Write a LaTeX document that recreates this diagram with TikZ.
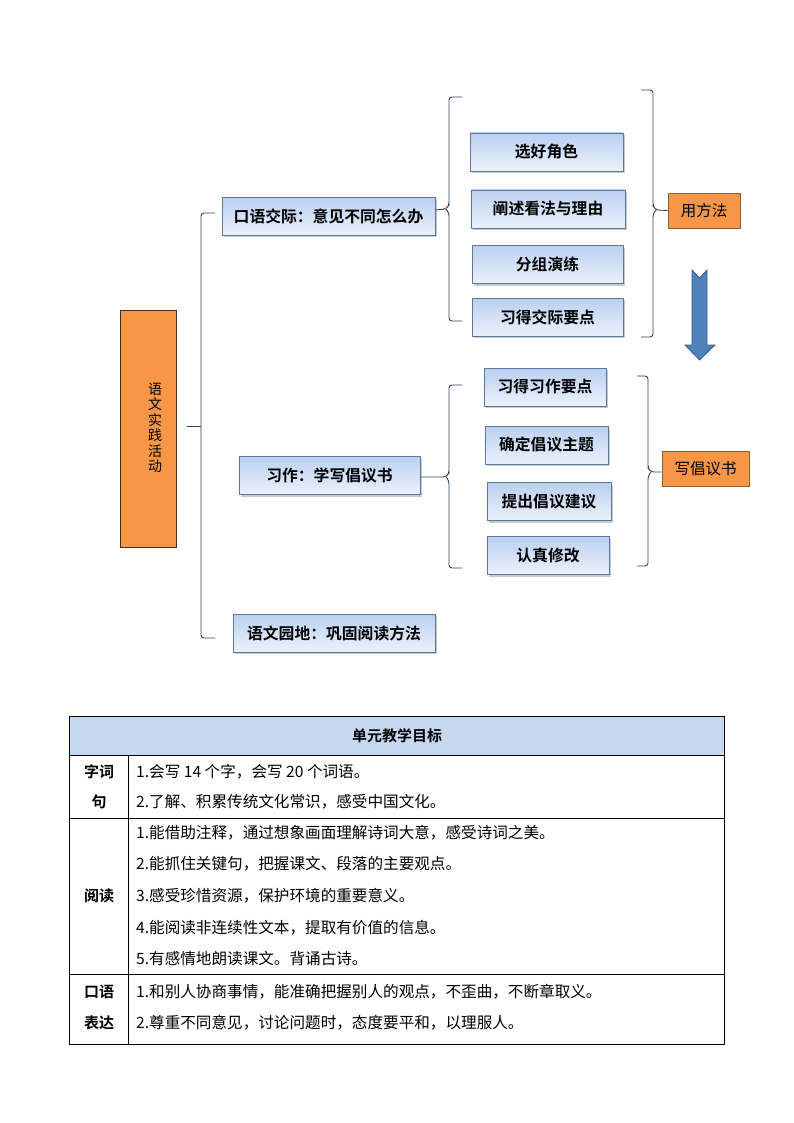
\documentclass[tikz,border=0pt]{standalone}
\usepackage{fontspec}
\setmainfont{Noto Sans CJK SC}[BoldFont={Noto Sans CJK SC Bold}]
\usetikzlibrary{shadows}
\definecolor{boxtop}{RGB}{186,207,240}
\definecolor{boxbot}{RGB}{236,242,252}
\definecolor{boxline}{RGB}{90,120,160}
\definecolor{orangefill}{RGB}{247,150,70}
\definecolor{orangeline}{RGB}{130,100,50}
\definecolor{linecol}{RGB}{45,65,95}
\definecolor{arrowfill}{RGB}{79,129,189}
\definecolor{arrowline}{RGB}{56,93,138}
\definecolor{headfill}{RGB}{198,217,241}
\tikzset{
  bluebox/.style={draw=boxline, line width=0.8pt, top color=boxtop, bottom color=boxbot,
    minimum height=38pt, font=\fontsize{15.8}{16}\selectfont\bfseries, inner sep=0pt,
    drop shadow={shadow xshift=1.5pt, shadow yshift=-2pt, fill=black!35, opacity=0.6}},
  orangebox/.style={draw=orangeline, line width=0.8pt, fill=orangefill,
    font=\fontsize{15.5}{16}\selectfont, inner sep=0pt},
  brace/.style={draw=linecol, line width=0.9pt, rounded corners=3pt},
  tline/.style={draw=black, line width=0.8pt},
  ttext/.style={anchor=west, font=\fontsize{15.6}{16}\selectfont, inner sep=0pt},
  tlabel/.style={font=\fontsize{15}{16}\selectfont\bfseries, inner sep=0pt}
}
\begin{document}
\begin{tikzpicture}[x=1pt,y=-1pt]
\useasboundingbox (0,0) rectangle (794,1123);
% root
\node[orangebox, draw=black!70!orangefill, minimum width=56pt, minimum height=237pt] (root) at (148,428.5) {};
\node[font=\fontsize{14}{15.5}\selectfont, align=center, inner sep=0pt] (roottxt) at (155,428) {语\\文\\实\\践\\活\\动};
% level 1 boxes
\node[bluebox, minimum width=213pt] (b1) at (328.5,216.5) {口语交际：意见不同怎么办};
\node[bluebox, minimum width=181pt] (b2) at (329.5,475.5) {习作：学写倡议书};
\node[bluebox, minimum width=202pt] (b3) at (334,633) {语文园地：巩固阅读方法};
% main bracket
\coordinate (mt) at (215,213);
\coordinate (mb) at (215,638);
\coordinate (mm) at (187,426);
\draw[brace] (mt) -- (201,213) -- (201,638) -- (mb);
\draw[linecol, line width=0.9pt] (mm) -- (201,426);
% group 1 items
\node[bluebox, minimum width=153pt] (g1a) at (546.5,152) {选好角色};
\node[bluebox, minimum width=154pt] (g1b) at (548,209) {阐述看法与理由};
\node[bluebox, minimum width=151pt] (g1c) at (547.5,264.5) {分组演练};
\node[bluebox, minimum width=151pt] (g1d) at (547.5,317) {习得交际要点};
\node[orangebox, minimum width=72pt, minimum height=35pt] (m1) at (704,210.5) {用方法};
% left brace group 1
\draw[brace] (462,97) -- (449,97) -- (449,205) -- (446,209) -- (b1.east |- 0,210);
\draw[brace] (446,209) -- (449,213) -- (449,321) -- (462,321);
% right brace group 1
\draw[brace] (641,90) -- (653,90) -- (653,206) -- (656,210) -- (m1.west);
\draw[brace] (656,210) -- (653,214) -- (653,337) -- (641,337);
% down arrow
\node[inner sep=0pt, minimum size=0pt] (arr) at (700,315) {};
\fill[arrowfill, draw=arrowline, line width=0.8pt, line join=miter]
  (692,270) -- (699.5,278) -- (707,270) -- (707,345) -- (715,345) -- (699.5,360) -- (685,345) -- (692,345) -- cycle;
% group 2 items
\node[bluebox, minimum width=122pt] (g2a) at (545,387) {习得习作要点};
\node[bluebox, minimum width=123pt] (g2b) at (546.5,445) {确定倡议主题};
\node[bluebox, minimum width=124pt] (g2c) at (549,501.5) {提出倡议建议};
\node[bluebox, minimum width=122pt] (g2d) at (548,555.5) {认真修改};
\node[orangebox, minimum width=87pt, minimum height=35pt] (m2) at (705.5,468.5) {写倡议书};
% left brace group 2
\draw[brace] (462,385) -- (449,385) -- (449,473) -- (446,477) -- (b2.east |- 0,477);
\draw[brace] (446,477) -- (449,481) -- (449,568) -- (462,568);
% right brace group 2
\draw[brace] (637,376) -- (648,376) -- (648,468) -- (651,472) -- (m2.west |- 0,472);
\draw[brace] (651,472) -- (648,476) -- (648,566) -- (637,566);
% table
\fill[headfill] (69,716) rectangle (724,755);
\draw[tline] (69,716) rectangle (724,1044);
\draw[tline] (69,755) -- (724,755);
\draw[tline] (69,818) -- (724,818);
\draw[tline] (69,974) -- (724,974);
\draw[tline] (128,755) -- (128,1044);
\node[tlabel] (th) at (397,736) {单元教学目标};
\node[tlabel] (l1a) at (99,772) {字词};
\node[tlabel] (l1b) at (99,802) {句};
\node[tlabel] (l2) at (99,896) {阅读};
\node[tlabel] (l3a) at (99,992) {口语};
\node[tlabel] (l3b) at (99,1023) {表达};
\node[ttext] (r1a) at (136,772) {1.会写 14 个字，会写 20 个词语。};
\node[ttext] (r1b) at (136,802) {2.了解、积累传统文化常识，感受中国文化。};
\node[ttext] (r2a) at (136,833) {1.能借助注释，通过想象画面理解诗词大意，感受诗词之美。};
\node[ttext] (r2b) at (136,864) {2.能抓住关键句，把握课文、段落的主要观点。};
\node[ttext] (r2c) at (136,896) {3.感受珍惜资源，保护环境的重要意义。};
\node[ttext] (r2d) at (136,928) {4.能阅读非连续性文本，提取有价值的信息。};
\node[ttext] (r2e) at (136,959) {5.有感情地朗读课文。背诵古诗。};
\node[ttext] (r3a) at (136,992) {1.和别人协商事情，能准确把握别人的观点，不歪曲，不断章取义。};
\node[ttext] (r3b) at (136,1023) {2.尊重不同意见，讨论问题时，态度要平和，以理服人。};
\end{tikzpicture}
\end{document}
